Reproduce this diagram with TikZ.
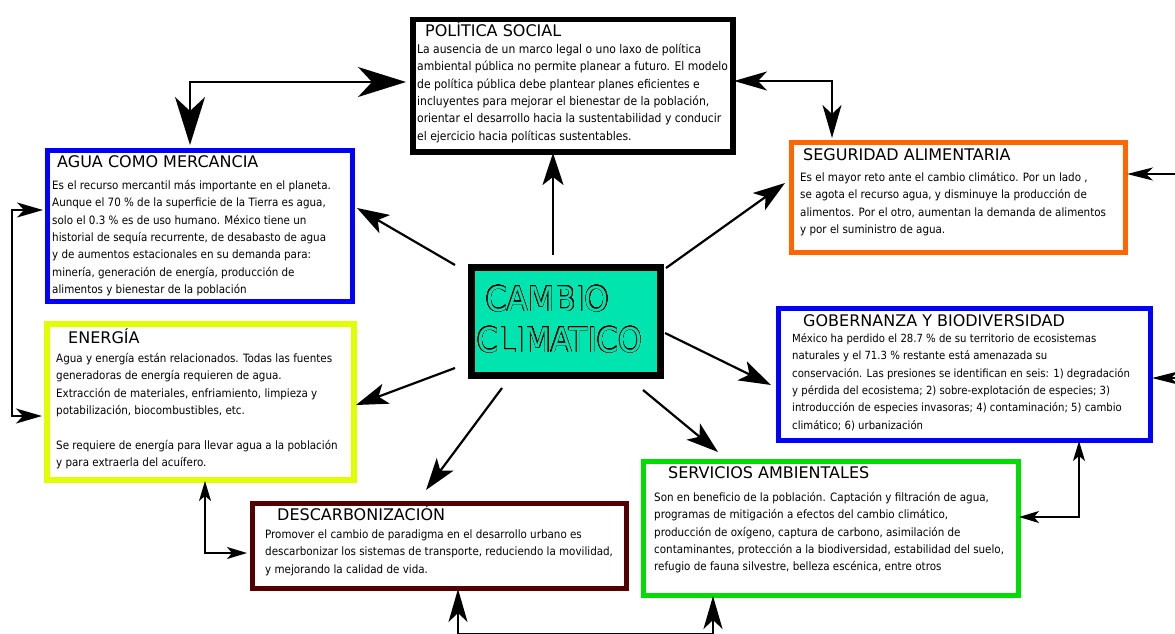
\documentclass[tikz,border=0pt]{standalone}
\usepackage{fontspec}
\usepackage{contour}
\usetikzlibrary{arrows.meta}
\newfontfamily\titlefont{DejaVu Sans}
\newfontfamily\bodyfont{DejaVu Sans Condensed}
\definecolor{tealfill}{HTML}{00E5B0}
\definecolor{ablue}{HTML}{0000FF}
\definecolor{ayellow}{HTML}{E0FF00}
\definecolor{aorange}{HTML}{FF6600}
\definecolor{agreen}{HTML}{00DD00}
\definecolor{adred}{HTML}{550000}
\contourlength{0.5pt}
\contournumber{32}
\begin{document}
\begin{tikzpicture}[x=1pt,y=-1pt,
  box/.style={draw, line width=5pt, anchor=north west, inner sep=0pt},
  ttl/.style={anchor=base west, inner sep=0pt, font=\titlefont\fontsize{16}{16}\selectfont},
  bdy/.style={anchor=north west, inner sep=0pt, align=left, font=\bodyfont\fontsize{11.5}{17.4}\selectfont},
  carr/.style={-{Stealth[length=32pt,width=21pt,inset=8pt]}, line width=2.2pt},
  hugearr/.style={{Stealth[length=48pt,width=30pt,inset=14pt]}-{Stealth[length=48pt,width=30pt,inset=14pt]}, line width=2pt},
  medarr/.style={{Stealth[length=33pt,width=19pt,inset=9pt]}-{Stealth[length=33pt,width=19pt,inset=9pt]}, line width=1.6pt},
  smallarr/.style={{Stealth[length=26pt,width=15pt,inset=7pt]}-{Stealth[length=26pt,width=15pt,inset=7pt]}, line width=1.6pt},
  tinyarr/.style={{Stealth[length=20pt,width=12pt,inset=5pt]}-{Stealth[length=20pt,width=12pt,inset=5pt]}, line width=1.4pt},
  sidearr/.style={-{Stealth[length=26pt,width=13pt,inset=7pt]}, line width=1.4pt}
]
\useasboundingbox (0,0) rectangle (1175,634);

% ---------- boxes ----------
\node[box, draw=black, line width=5.5pt, minimum width=320pt, minimum height=132pt] (pol) at (410,17) {};
\node[box, draw=ablue, line width=4.5pt, minimum width=305pt, minimum height=151pt] (agua) at (45,148) {};
\node[box, draw=ayellow, line width=6pt, minimum width=307pt, minimum height=156pt] (ener) at (44,321) {};
\node[box, draw=aorange, minimum width=334pt, minimum height=110pt] (seg) at (789,140) {};
\node[box, draw=ablue, minimum width=372pt, minimum height=132pt] (gob) at (776,306) {};
\node[box, draw=agreen, minimum width=375pt, minimum height=134pt] (serv) at (641,459) {};
\node[box, draw=adred, minimum width=374pt, minimum height=85pt] (desc) at (250,501) {};
\node[box, draw=black, line width=7pt, fill=tealfill, minimum width=189pt, minimum height=108pt] (cc) at (468,264) {};

% ---------- centre text ----------
\node[inner sep=0pt, anchor=base, font=\bodyfont\fontsize{34}{34}\selectfont] (ccA) at (547.5,311) {\contour{black}{\textcolor{tealfill}{CAMBIO}}};
\node[inner sep=0pt, anchor=base, font=\bodyfont\fontsize{34}{34}\selectfont] (ccB) at (560,352) {\contour{black}{\textcolor{tealfill}{CLIMATICO}}};

% ---------- titles ----------
\node[ttl] (polT) at (425,37) {POLÍTICA SOCIAL};
\node[ttl] (aguaT) at (57,167) {AGUA COMO MERCANCIA};
\node[ttl] (enerT) at (68,343) {ENERGÍA};
\node[ttl] (segT) at (803,160) {SEGURIDAD ALIMENTARIA};
\node[ttl] (gobT) at (803,326) {GOBERNANZA Y BIODIVERSIDAD};
\node[ttl] (servT) at (668,478) {SERVICIOS AMBIENTALES};
\node[ttl] (descT) at (277,520) {DESCARBONIZACIÓN};

% ---------- bodies ----------
\node[bdy, font=\bodyfont\fontsize{12}{17.4}\selectfont] (polB) at (417,41) {\rule{0pt}{12pt}La ausencia de un marco legal o uno laxo de política\\
ambiental pública no permite planear a futuro. El modelo\\
de política pública debe plantear planes eficientes e\\
incluyentes para mejorar el bienestar de la población,\\
orientar el desarrollo hacia la sustentabilidad y conducir\\
el ejercicio hacia políticas sustentables.};

\node[bdy] (aguaB) at (52,177) {\rule{0pt}{12pt}Es el recurso mercantil más importante en el planeta.\\
Aunque el 70 \% de la superficie de la Tierra es agua,\\
solo el 0.3 \% es de uso humano. México tiene un\\
historial de sequía recurrente, de desabasto de agua\\
y de aumentos estacionales en su demanda para:\\
minería, generación de energía, producción de\\
alimentos y bienestar de la población};

\node[bdy] (enerB) at (56,350) {\rule{0pt}{12pt}Agua y energía están relacionados. Todas las fuentes\\
generadoras de energía requieren de agua.\\
Extracción de materiales, enfriamiento, limpieza y\\
potabilización, biocombustibles, etc.\\[17.4pt]
Se requiere de energía para llevar agua a la población\\
y para extraerla del acuífero.};

\node[bdy] (segB) at (800,169) {\rule{0pt}{12pt}Es el mayor reto ante el cambio climático. Por un lado ,\\
se agota el recurso agua, y disminuye la producción de\\
alimentos. Por el otro, aumentan la demanda de alimentos\\
y por el suministro de agua.};

\node[bdy, font=\bodyfont\fontsize{11.25}{17.4}\selectfont] (gobB) at (792,330) {\rule{0pt}{12pt}México ha perdido el 28.7 \% de su territorio de ecosistemas\\
naturales y el 71.3 \% restante está amenazada su\\
conservación. Las presiones se identifican en seis: 1) degradación\\
y pérdida del ecosistema; 2) sobre-explotación de especies; 3)\\
introducción de especies invasoras; 4) contaminación; 5) cambio\\
climático; 6) urbanización};

\node[bdy] (servB) at (654,489) {\rule{0pt}{12pt}Son en beneficio de la población. Captación y filtración de agua,\\
programas de mitigación a efectos del cambio climático,\\
producción de oxígeno, captura de carbono, asimilación de\\
contaminantes, protección a la biodiversidad, estabilidad del suelo,\\
refugio de fauna silvestre, belleza escénica, entre otros};

\node[bdy] (descB) at (265,526) {\rule{0pt}{12pt}Promover el cambio de paradigma en el desarrollo urbano es\\
descarbonizar los sistemas de transporte, reduciendo la movilidad,\\
y mejorando la calidad de vida.};

% ---------- connector end points ----------
\coordinate (c1s) at (553,255);  \coordinate (c1e) at (553,153);
\coordinate (c2s) at (455,265);  \coordinate (c2e) at (357,208);
\coordinate (c3s) at (666,268);  \coordinate (c3e) at (785,183);
\coordinate (c4s) at (455,368);  \coordinate (c4e) at (356,405);
\coordinate (c5s) at (502,388);  \coordinate (c5e) at (426,490);
\coordinate (c6s) at (643,390);  \coordinate (c6e) at (718,452);
\coordinate (c7s) at (665,333);  \coordinate (c7e) at (771,385);

\draw[carr] (c1s) -- (c1e);
\draw[carr] (c2s) -- (c2e);
\draw[carr] (c3s) -- (c3e);
\draw[carr] (c4s) -- (c4e);
\draw[carr] (c5s) -- (c5e);
\draw[carr] (c6s) -- (c6e);
\draw[carr] (c7s) -- (c7e);

% ---------- side links ----------
\coordinate (aguaTop) at (190,145);
\coordinate (polLeft) at (406,82);
\draw[hugearr] (aguaTop) |- (polLeft);

\coordinate (polRight) at (734,81);
\coordinate (segTop) at (832,138);
\draw[medarr] (polRight) -| (segTop);

\coordinate (aguaLeft) at (43,210);
\coordinate (enerLeft) at (42,416);
\draw[smallarr] (aguaLeft) -- (12,210) -- (12,416) -- (enerLeft);

\coordinate (enerBot) at (205,481);
\coordinate (descLeft) at (247,553);
\draw[tinyarr] (enerBot) |- (descLeft);

\coordinate (descBot) at (458,589);
\coordinate (servBot) at (713,596);
\draw[medarr] (descBot) -- (458,633.5) -- (713,633.5) -- (servBot);

\coordinate (servRight) at (1019,517);
\coordinate (gobBot) at (1079,441);
\draw[tinyarr] (servRight) -| (gobBot);

\coordinate (rEdge1) at (1176,174);
\coordinate (segRight) at (1127,174);
\draw[sidearr] (rEdge1) -- (segRight);

\coordinate (rEdge2) at (1185,378);
\coordinate (gobRight) at (1152,378);
\draw[sidearr] (rEdge2) -- (gobRight);
\end{tikzpicture}
\end{document}
